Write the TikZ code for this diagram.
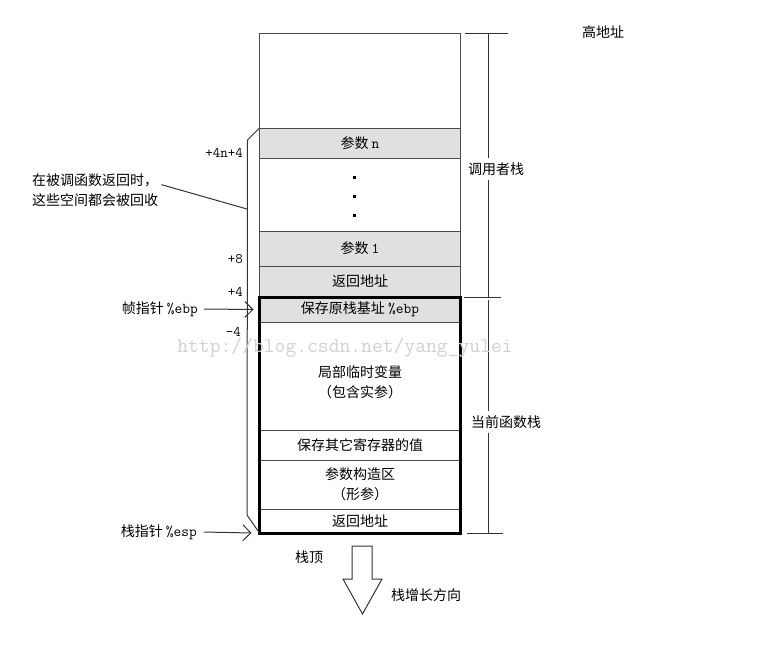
\documentclass[tikz,border=0pt]{standalone}
\usepackage{fontspec}
\setmainfont{Noto Sans CJK SC}
\usetikzlibrary{arrows.meta}
\tikzstyle{every node}=[inner sep=0pt,font=\fontsize{14}{20}\selectfont]
\tikzstyle{cell}=[draw=black!70,line width=1pt,minimum width=201pt,anchor=north,outer sep=0pt]
\tikzstyle{shade}=[fill=black!12]
\tikzstyle{rule}=[line width=1pt,black!80]
\tikzstyle{ptr}=[rule,-{Straight Barb[length=8pt,width=16pt]}]
\tikzstyle{offset}=[anchor=east,font=\ttfamily\fontsize{14.5}{16}\selectfont]
\newcommand{\reg}[1]{{\ttfamily\fontsize{15}{16}\selectfont #1}}

\begin{document}
\begin{tikzpicture}[x=1pt,y=-1pt]
\useasboundingbox (0,0) rectangle (782,646);
\node[cell,minimum height=95pt] (top) at (360,33) {};
\node[cell,shade,minimum height=30pt] (parn) at (top.south) {参数 \reg{n}};
\node[cell,minimum height=73pt] (dots) at (parn.south) {};
\node[cell,shade,minimum height=35pt] (par1) at (dots.south) {参数 \reg{1}};
\node[cell,shade,minimum height=31pt] (ret1) at (par1.south) {返回地址};
\node[cell,shade,minimum height=25pt] (ebp) at (ret1.south) {保存原栈基址 \reg{\%ebp}};
\node[cell,minimum height=108pt] (local) at (ebp.south) {};
\node[cell,minimum height=30pt] (regs) at (local.south) {保存其它寄存器的值};
\node[cell,minimum height=49pt,align=center] (args) at (regs.south) {参数构造区\\（形参）};
\node[cell,minimum height=24pt] (ret2) at (args.south) {返回地址};
\node[align=center] (localtxt) at ([yshift=-60pt]local.north) {局部临时变量\\（包含实参）};
\foreach \d in {18,37,56}
  \fill ([xshift=-7.5pt,yshift=-\d pt]dots.north) rectangle ++(3,3);
\draw[line width=3pt] (ebp.north west) rectangle (ret2.south east);

\draw[rule] (parn.north west) -- ++(-12,12) -- (247,515) -- (ret2.south west);
\node[anchor=north west,align=left] (note) at (32,174) {在被调函数返回时，\\这些空间都会被回收};
\coordinate (hit) at (247,209);
\draw[rule] ([xshift=3pt,yshift=6pt]note.east) -- (hit);

\node[offset] (o4n) at (243,153) {+4n+4};
\node[offset] (o8) at (243,259) {+8};
\node[offset] (o4) at (243,292) {+4};
\node[offset] (om4) at (241,332) {-4};

\node[anchor=east] (fp) at (198,309) {帧指针 \reg{\%ebp}};
\draw[ptr] ([xshift=6pt]fp.east) -- ([xshift=-6pt]ebp.west);
\node[anchor=east] (sp) at (197,532) {栈指针 \reg{\%esp}};
\draw[ptr] ([xshift=7pt]sp.east) -- ([xshift=-8pt]ret2.south west);

\coordinate (rx) at (488,0);
\node (caller) at (496,169) {调用者栈};
\node (cur) at (506,422) {当前函数栈};
\draw[rule] ([xshift=4pt]top.north east) -- ++(43,0);
\draw[rule] ([xshift=3pt]ebp.north east) -- ++(37,0);
\draw[rule] ([xshift=6pt]ret2.south east) -- ++(36,0);
\draw[rule] (top.north -| rx) -- ([yshift=4pt]caller.north -| rx);
\draw[rule] ([yshift=-4pt]caller.south -| rx) -- (ebp.north -| rx);
\draw[rule] ([yshift=-3pt]ebp.north -| rx) -- ([yshift=4pt]cur.north -| rx);
\draw[rule] ([yshift=-4pt]cur.south -| rx) -- (ret2.south -| rx);

\node (high) at (603,32) {高地址};
\node (stacktop) at (309,557) {栈顶};
\draw[rule,line join=miter] (352,546) -- (372,546) -- (372,579) -- (382,579) -- (362.5,614) -- (343,579) -- (352,579) -- cycle;
\node (grow) at (426,595) {栈增长方向};

\node[font=\ttfamily\fontsize{21}{22}\selectfont,text=black!18] (mark) at (345,348) {http://blog.csdn.net/yang\_yulei};
\end{tikzpicture}
\end{document}
